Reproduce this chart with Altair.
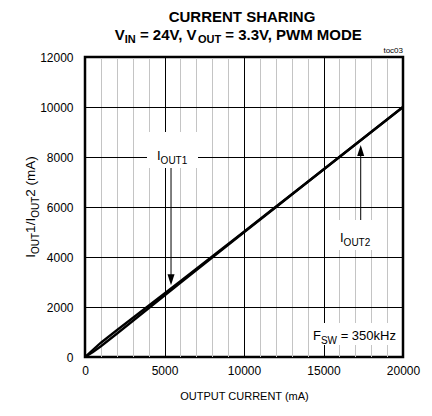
import altair as alt
import pandas as pd

# ---- data ----
current = [0, 500, 1000, 2000, 3000, 4000, 5000, 6000, 8000, 10000, 12000, 14000, 16000, 18000, 20000]
iout1 = [0, 290, 570, 1070, 1560, 2050, 2540, 3030, 4020, 5010, 6010, 7000, 8000, 9000, 10000]
iout2 = [0, 200, 430, 930, 1440, 1950, 2460, 2970, 3980, 4990, 5990, 7000, 8000, 9000, 10000]
series_names = ["IOUT1", "IOUT2"]
x_tick_values = list(range(0, 20001, 1000))
y_tick_values = list(range(0, 12001, 2000))

FONT = "Liberation Sans"
W, H = 318, 300
XMAX, YMAX = 20000, 12000

rows = []
for name, vals in zip(series_names, [iout1, iout2]):
    for c, v in zip(current, vals):
        rows.append({"current": c, "value": v, "series": name})
df = pd.DataFrame(rows)

# Arial / Liberation Sans advance widths (per 1000 em)
REG = {" ": 278, "(": 333, ")": 333, "/": 278, "=": 584, ",": 278, ".": 278,
       "A": 667, "C": 722, "D": 722, "E": 667, "F": 611, "G": 778, "H": 722, "I": 278,
       "M": 833, "N": 722, "O": 778, "P": 667, "R": 722, "S": 667, "T": 611, "U": 722,
       "V": 667, "W": 944, "k": 500, "m": 833, "z": 500}
BOLD = dict(REG)
BOLD.update({"A": 722})
for d in "0123456789":
    REG[d] = 556
    BOLD[d] = 556


def width(s, size, bold=False):
    tab = BOLD if bold else REG
    return sum(tab.get(ch, 556) for ch in s) * size / 1000.0


one = alt.Data(values=[{}])


def text_mark(s, px, py, size, bold=False, angle=0, align="left", baseline="alphabetic"):
    kw = dict(text=s, fontSize=size, font=FONT, fontWeight="bold" if bold else "normal",
              align=align, baseline=baseline, color="black")
    if angle:
        kw["angle"] = angle
    return alt.Chart(one).mark_text(**kw).encode(x=alt.value(px), y=alt.value(py))


def run(pieces, x0, y0, bold=False, vertical=False):
    """pieces: list of (text, size, shift) laid out one after another."""
    layers = []
    pos = 0.0
    for s, size, shift in pieces:
        stripped = s.lstrip(" ")
        pos += width(s[: len(s) - len(stripped)], size, bold)
        if vertical:
            layers.append(text_mark(stripped, x0 + shift, y0 - pos, size, bold, angle=270))
        else:
            layers.append(text_mark(stripped, x0 + pos, y0 + shift, size, bold))
        pos += width(stripped, size, bold)
    return layers, pos


X0, Y0 = 85, 57  # plot origin on page


def rx(px):
    return px - X0


def ry(py):
    return py - Y0


def dx(v):
    return v / XMAX * W


def dy(v):
    return H - v / YMAX * H


x_axis = alt.Axis(
    values=x_tick_values, format="d",
    labelExpr="datum.value % 5000 === 0 ? datum.label : ''",
    grid=True,
    gridColor={"condition": {"test": "datum.value % 5000 === 0", "value": "#000000"}, "value": "#c4c4c4"},
    gridWidth=1, ticks=False, domain=False, labelOverlap=False, labelFlush=False,
    labelPadding=8, labelFontSize=12, labelFont=FONT, labelColor="black",
    title="OUTPUT CURRENT (mA)", titleFont=FONT, titleFontSize=11, titleFontWeight="normal",
    titleColor="black", titlePadding=14,
)
y_axis = alt.Axis(
    values=y_tick_values, format="d", grid=True, gridColor="#000000", gridWidth=1,
    ticks=False, domain=False, labelOverlap=False, labelFlush=False, labelPadding=12,
    labelFontSize=12, labelFont=FONT, labelColor="black", title=None,
)

lines = alt.Chart(df).mark_line(color="black", strokeWidth=2.3).encode(
    x=alt.X("current:Q", scale=alt.Scale(domain=[0, XMAX], nice=False), axis=x_axis),
    y=alt.Y("value:Q", scale=alt.Scale(domain=[0, YMAX], nice=False), axis=y_axis),
    detail="series:N",
)


def box(x1, x2, y1, y2):
    return alt.Chart(one).mark_rect(color="white").encode(
        x=alt.value(rx(x1)), x2=alt.value(rx(x2)), y=alt.value(ry(y1)), y2=alt.value(ry(y2)))


boxes = [box(147, 198, 132, 168), box(326, 386, 220, 250), box(310, 401, 323, 345)]

DOWN = "M-0.64,-1L0.64,-1L0,1Z"
UP = "M-0.64,1L0.64,1L0,-1Z"


def arrow(xv, y_from, y_head, shape):
    rule = alt.Chart(one).mark_rule(color="black", strokeWidth=1).encode(
        x=alt.value(dx(xv)), y=alt.value(dy(y_from)), y2=alt.value(dy(y_head)))
    head = alt.Chart(one).mark_point(shape=shape, filled=True, size=121, color="black",
                                     opacity=1, strokeWidth=0).encode(
        x=alt.value(dx(xv)), y=alt.value(dy(y_head)))
    return [rule, head]


arrows = arrow(5410, 7560, 3090, DOWN) + arrow(17340, 5480, 8260, UP)

texts = []
# title
texts.append(text_mark("CURRENT SHARING", rx(242), ry(21.5), 15, bold=True, align="center"))
sub_pieces = [("V", 15, 0), ("IN", 11, 3.5), (" = 24V, V", 15, 0), ("OUT", 11, 3.5),
              (" = 3.3V, PWM MODE", 15, 0)]
tot = sum(width(s, z, True) for s, z, _ in sub_pieces)
lay, _ = run(sub_pieces, rx(239 - tot / 2), ry(39.5), bold=True)
texts += lay
texts.append(text_mark("toc03", rx(403), ry(53), 8, align="right"))

# y-axis title
ypieces = [("I", 13.5, 0), ("OUT", 10, 3.5), ("1/I", 13.5, 0), ("OUT", 10, 3.5), ("2 (mA)", 13.5, 0)]
ytot = sum(width(s, z) for s, z, _ in ypieces)
lay, _ = run(ypieces, rx(35), ry(207 + ytot / 2), vertical=True)
texts += lay

# annotations
lay, _ = run([("I", 13, 0), ("OUT1", 10, 4)], rx(157), ry(160))
texts += lay
lay, _ = run([("I", 13, 0), ("OUT2", 10, 4)], rx(340), ry(242))
texts += lay
lay, _ = run([("F", 13, 0), ("SW", 10, 4), (" = 350kHz", 13, 0)], rx(313), ry(340))
texts += lay

chart = alt.layer(*boxes, lines, *arrows, *texts).properties(
    width=W, height=H,
    autosize=alt.AutoSizeParams(type="none"),
    padding={"left": 77, "top": 49, "right": 21, "bottom": 51},
    background="white",
).configure_view(stroke="black", strokeWidth=2.5)

chart.save("out.html", embed_options={"renderer": "svg", "actions": False})
